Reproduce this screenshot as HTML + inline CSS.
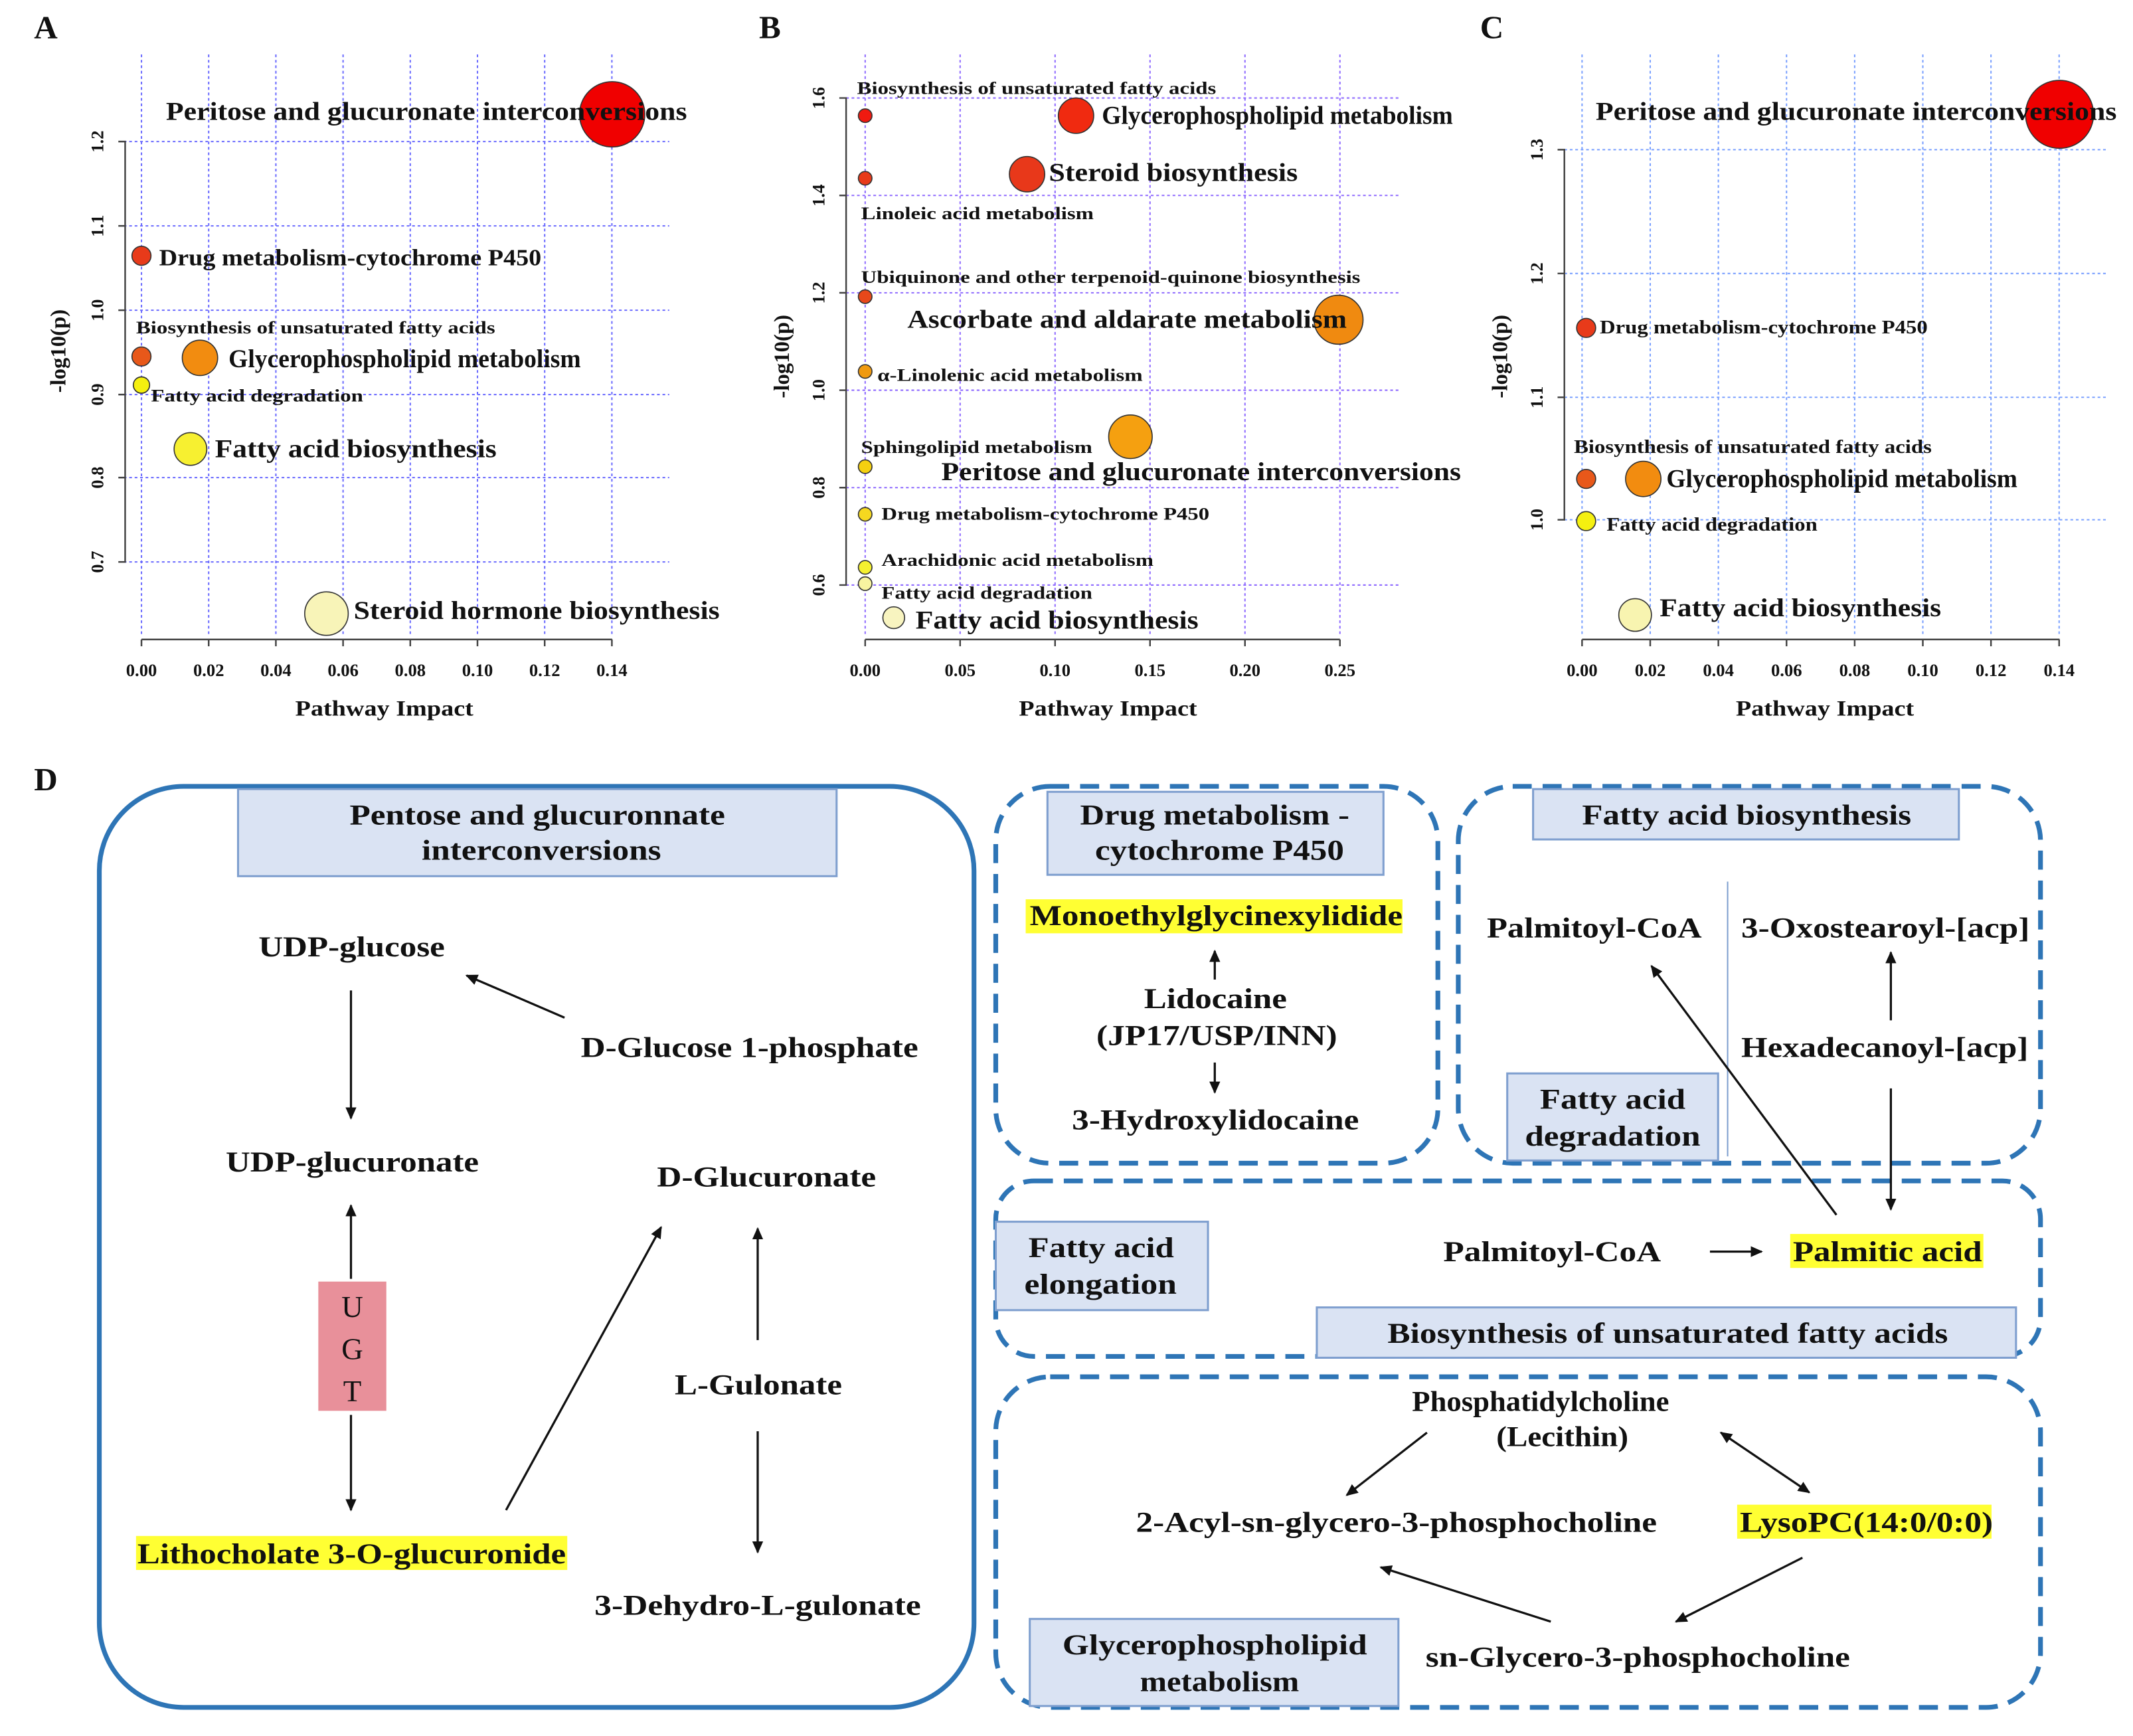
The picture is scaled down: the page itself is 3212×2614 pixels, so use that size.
<!DOCTYPE html>
<html><head><meta charset="utf-8"><style>
html,body{margin:0;padding:0;background:#fff}
svg{display:block}
text{font-family:"Liberation Serif",serif;font-weight:bold;fill:#111}
.g{stroke:#6b6bff;stroke-width:1;stroke-dasharray:2,2}
.gb{stroke:#8f6bff;stroke-width:1;stroke-dasharray:2,2}
.gc{stroke:#7aa0ff;stroke-width:1;stroke-dasharray:2,2}
.ax{stroke:#444;stroke-width:1.2;fill:none}
.b{stroke:#333;stroke-width:0.8}
.tk{font-size:13px}
.lb{fill:#dae3f3;stroke:#7f9fcf;stroke-width:1.5}
.dash{fill:none;stroke:#2e75b6;stroke-width:3.5;stroke-dasharray:14,8}
.ar{stroke:#111;stroke-width:1.6;fill:none;marker-end:url(#ah)}
.hl{fill:#ffff33}
</style></head><body>
<svg width="3212" height="2614" viewBox="0 0 1568 1276" xmlns="http://www.w3.org/2000/svg">
<defs><marker id="ah" markerWidth="10" markerHeight="10" refX="8" refY="5" orient="auto" markerUnits="userSpaceOnUse"><path d="M0,1 L9,5 L0,9 z" fill="#111"/></marker>
<marker id="as" markerWidth="10" markerHeight="10" refX="2" refY="5" orient="auto" markerUnits="userSpaceOnUse"><path d="M10,1 L1,5 L10,9 z" fill="#111"/></marker></defs>
<rect width="1568" height="1276" fill="#fff"/>

<!-- Panel A -->
<text x="25" y="28" font-size="24">A</text>
<g class="g">
<line x1="104" y1="40" x2="104" y2="468"/><line x1="153.4" y1="40" x2="153.4" y2="468"/><line x1="202.8" y1="40" x2="202.8" y2="468"/><line x1="252.2" y1="40" x2="252.2" y2="468"/><line x1="301.6" y1="40" x2="301.6" y2="468"/><line x1="351" y1="40" x2="351" y2="468"/><line x1="400.4" y1="40" x2="400.4" y2="468"/><line x1="449.8" y1="40" x2="449.8" y2="468"/>
<line x1="91" y1="104" x2="492" y2="104"/><line x1="91" y1="166" x2="492" y2="166"/><line x1="91" y1="228" x2="492" y2="228"/><line x1="91" y1="290" x2="492" y2="290"/><line x1="91" y1="351" x2="492" y2="351"/><line x1="91" y1="413" x2="492" y2="413"/>
</g>
<path class="ax" d="M87,104 H92 V413 H87 M92,166 H87 M92,228 H87 M92,290 H87 M92,351 H87"/>
<path class="ax" d="M104,470 H450 M104,470 v5 M153.4,470 v5 M202.8,470 v5 M252.2,470 v5 M301.6,470 v5 M351,470 v5 M400.4,470 v5 M449.8,470 v5"/>
<g class="tk" text-anchor="middle">
<text x="104" y="497">0.00</text><text x="153.4" y="497">0.02</text><text x="202.8" y="497">0.04</text><text x="252.2" y="497">0.06</text><text x="301.6" y="497">0.08</text><text x="351" y="497">0.10</text><text x="400.4" y="497">0.12</text><text x="449.8" y="497">0.14</text>
<text transform="translate(76,104) rotate(-90)">1.2</text><text transform="translate(76,166) rotate(-90)">1.1</text><text transform="translate(76,228) rotate(-90)">1.0</text><text transform="translate(76,290) rotate(-90)">0.9</text><text transform="translate(76,351) rotate(-90)">0.8</text><text transform="translate(76,413) rotate(-90)">0.7</text>
</g>
<text x="217" y="526" font-size="16" textLength="131" lengthAdjust="spacingAndGlyphs">Pathway Impact</text>
<text transform="translate(48,258) rotate(-90)" font-size="16" text-anchor="middle">-log10(p)</text>
<circle class="b" cx="450" cy="84" r="24" fill="#f00000"/>
<circle class="b" cx="104" cy="188" r="7" fill="#e83a1a"/>
<circle class="b" cx="104" cy="262" r="7" fill="#e8581a"/>
<circle class="b" cx="147" cy="263" r="13" fill="#f28c10"/>
<circle class="b" cx="104" cy="283" r="6" fill="#f5f010"/>
<circle class="b" cx="140" cy="330" r="12" fill="#f7f030"/>
<circle class="b" cx="240" cy="451" r="16" fill="#f8f4b8"/>
<g lengthAdjust="spacingAndGlyphs">
<text x="122" y="88" font-size="19" textLength="383" lengthAdjust="spacingAndGlyphs">Peritose and glucuronate interconversions</text>
<text x="117" y="195" font-size="17" textLength="281" lengthAdjust="spacingAndGlyphs">Drug metabolism-cytochrome P450</text>
<text x="100" y="245" font-size="13" textLength="264" lengthAdjust="spacingAndGlyphs">Biosynthesis of unsaturated fatty acids</text>
<text x="168" y="270" font-size="19" textLength="259" lengthAdjust="spacingAndGlyphs">Glycerophospholipid metabolism</text>
<text x="111" y="295" font-size="13" textLength="156" lengthAdjust="spacingAndGlyphs">Fatty acid degradation</text>
<text x="158" y="336" font-size="19" textLength="207" lengthAdjust="spacingAndGlyphs">Fatty acid biosynthesis</text>
<text x="260" y="455" font-size="19" textLength="269" lengthAdjust="spacingAndGlyphs">Steroid hormone biosynthesis</text>
</g>

<!-- Panel B -->
<text x="558" y="28" font-size="24">B</text>
<g class="gb">
<line x1="636" y1="40" x2="636" y2="468"/><line x1="705.8" y1="40" x2="705.8" y2="468"/><line x1="775.6" y1="40" x2="775.6" y2="468"/><line x1="845.4" y1="40" x2="845.4" y2="468"/><line x1="915.2" y1="40" x2="915.2" y2="468"/><line x1="985" y1="40" x2="985" y2="468"/>
<line x1="622" y1="72" x2="1030" y2="72"/><line x1="622" y1="143.6" x2="1030" y2="143.6"/><line x1="622" y1="215.2" x2="1030" y2="215.2"/><line x1="622" y1="286.8" x2="1030" y2="286.8"/><line x1="622" y1="358.4" x2="1030" y2="358.4"/><line x1="622" y1="430" x2="1030" y2="430"/>
</g>
<path class="ax" d="M617,72 H622 V430 H617 M622,143.6 H617 M622,215.2 H617 M622,286.8 H617 M622,358.4 H617"/>
<path class="ax" d="M636,470 H985 M636,470 v5 M705.8,470 v5 M775.6,470 v5 M845.4,470 v5 M915.2,470 v5 M985,470 v5"/>
<g class="tk" text-anchor="middle">
<text x="636" y="497">0.00</text><text x="705.8" y="497">0.05</text><text x="775.6" y="497">0.10</text><text x="845.4" y="497">0.15</text><text x="915.2" y="497">0.20</text><text x="985" y="497">0.25</text>
<text transform="translate(606,72) rotate(-90)">1.6</text><text transform="translate(606,143.6) rotate(-90)">1.4</text><text transform="translate(606,215.2) rotate(-90)">1.2</text><text transform="translate(606,286.8) rotate(-90)">1.0</text><text transform="translate(606,358.4) rotate(-90)">0.8</text><text transform="translate(606,430) rotate(-90)">0.6</text>
</g>
<text x="749" y="526" font-size="16" textLength="131" lengthAdjust="spacingAndGlyphs">Pathway Impact</text>
<text transform="translate(580,262) rotate(-90)" font-size="16" text-anchor="middle">-log10(p)</text>
<circle class="b" cx="636" cy="85" r="5" fill="#f01a10"/>
<circle class="b" cx="791" cy="85" r="13" fill="#f02a10"/>
<circle class="b" cx="636" cy="131" r="5" fill="#e83a1a"/>
<circle class="b" cx="755" cy="128" r="13" fill="#e8381a"/>
<circle class="b" cx="636" cy="218" r="5" fill="#e8481a"/>
<circle class="b" cx="984" cy="235" r="18" fill="#f08a10"/>
<circle class="b" cx="636" cy="273" r="5" fill="#f09a10"/>
<circle class="b" cx="636" cy="343" r="5" fill="#f5d010"/>
<circle class="b" cx="831" cy="321" r="16" fill="#f5a010"/>
<circle class="b" cx="636" cy="378" r="5" fill="#f5d820"/>
<circle class="b" cx="636" cy="417" r="5" fill="#f5f030"/>
<circle class="b" cx="636" cy="429" r="5" fill="#f8f4a0"/>
<circle class="b" cx="657" cy="454" r="8" fill="#f8f4c0"/>
<text x="630" y="69" font-size="13" textLength="264" lengthAdjust="spacingAndGlyphs">Biosynthesis of unsaturated fatty acids</text>
<text x="810" y="91" font-size="19" textLength="258" lengthAdjust="spacingAndGlyphs">Glycerophospholipid metabolism</text>
<text x="771" y="133" font-size="19" textLength="183" lengthAdjust="spacingAndGlyphs">Steroid biosynthesis</text>
<text x="633" y="161" font-size="13" textLength="171" lengthAdjust="spacingAndGlyphs">Linoleic acid metabolism</text>
<text x="633" y="208" font-size="13" textLength="367" lengthAdjust="spacingAndGlyphs">Ubiquinone and other terpenoid-quinone biosynthesis</text>
<text x="667" y="241" font-size="19" textLength="323" lengthAdjust="spacingAndGlyphs">Ascorbate and aldarate metabolism</text>
<text x="645" y="280" font-size="13" textLength="195" lengthAdjust="spacingAndGlyphs">α-Linolenic acid metabolism</text>
<text x="633" y="333" font-size="13" textLength="170" lengthAdjust="spacingAndGlyphs">Sphingolipid metabolism</text>
<text x="692" y="353" font-size="19" textLength="382" lengthAdjust="spacingAndGlyphs">Peritose and glucuronate interconversions</text>
<text x="648" y="382" font-size="13" textLength="241" lengthAdjust="spacingAndGlyphs">Drug metabolism-cytochrome P450</text>
<text x="648" y="416" font-size="13" textLength="200" lengthAdjust="spacingAndGlyphs">Arachidonic acid metabolism</text>
<text x="648" y="440" font-size="13" textLength="155" lengthAdjust="spacingAndGlyphs">Fatty acid degradation</text>
<text x="673" y="462" font-size="19" textLength="208" lengthAdjust="spacingAndGlyphs">Fatty acid biosynthesis</text>

<!-- Panel C -->
<text x="1088" y="28" font-size="24">C</text>
<g class="gc">
<line x1="1163" y1="40" x2="1163" y2="468"/><line x1="1213.1" y1="40" x2="1213.1" y2="468"/><line x1="1263.2" y1="40" x2="1263.2" y2="468"/><line x1="1313.3" y1="40" x2="1313.3" y2="468"/><line x1="1363.4" y1="40" x2="1363.4" y2="468"/><line x1="1413.5" y1="40" x2="1413.5" y2="468"/><line x1="1463.6" y1="40" x2="1463.6" y2="468"/><line x1="1513.7" y1="40" x2="1513.7" y2="468"/>
<line x1="1150" y1="110" x2="1548" y2="110"/><line x1="1150" y1="201" x2="1548" y2="201"/><line x1="1150" y1="292" x2="1548" y2="292"/><line x1="1150" y1="382" x2="1548" y2="382"/>
</g>
<path class="ax" d="M1145,110 H1150 V382 H1145 M1150,201 H1145 M1150,292 H1145"/>
<path class="ax" d="M1163,470 H1514 M1163,470 v5 M1213.1,470 v5 M1263.2,470 v5 M1313.3,470 v5 M1363.4,470 v5 M1413.5,470 v5 M1463.6,470 v5 M1513.7,470 v5"/>
<g class="tk" text-anchor="middle">
<text x="1163" y="497">0.00</text><text x="1213.1" y="497">0.02</text><text x="1263.2" y="497">0.04</text><text x="1313.3" y="497">0.06</text><text x="1363.4" y="497">0.08</text><text x="1413.5" y="497">0.10</text><text x="1463.6" y="497">0.12</text><text x="1513.7" y="497">0.14</text>
<text transform="translate(1134,110) rotate(-90)">1.3</text><text transform="translate(1134,201) rotate(-90)">1.2</text><text transform="translate(1134,292) rotate(-90)">1.1</text><text transform="translate(1134,382) rotate(-90)">1.0</text>
</g>
<text x="1276" y="526" font-size="16" textLength="131" lengthAdjust="spacingAndGlyphs">Pathway Impact</text>
<text transform="translate(1108,262) rotate(-90)" font-size="16" text-anchor="middle">-log10(p)</text>
<circle class="b" cx="1514" cy="84" r="25" fill="#f00000"/>
<circle class="b" cx="1166" cy="241" r="7" fill="#e83a1a"/>
<circle class="b" cx="1166" cy="352" r="7" fill="#e8581a"/>
<circle class="b" cx="1208" cy="352" r="13" fill="#f28c10"/>
<circle class="b" cx="1166" cy="383" r="7" fill="#f5f010"/>
<circle class="b" cx="1202" cy="452" r="12" fill="#f8f4b0"/>
<text x="1173" y="88" font-size="19" textLength="383" lengthAdjust="spacingAndGlyphs">Peritose and glucuronate interconversions</text>
<text x="1176" y="245" font-size="14" textLength="241" lengthAdjust="spacingAndGlyphs">Drug metabolism-cytochrome P450</text>
<text x="1157" y="333" font-size="14" textLength="263" lengthAdjust="spacingAndGlyphs">Biosynthesis of unsaturated fatty acids</text>
<text x="1225" y="358" font-size="19" textLength="258" lengthAdjust="spacingAndGlyphs">Glycerophospholipid metabolism</text>
<text x="1181" y="390" font-size="14" textLength="155" lengthAdjust="spacingAndGlyphs">Fatty acid degradation</text>
<text x="1220" y="453" font-size="19" textLength="207" lengthAdjust="spacingAndGlyphs">Fatty acid biosynthesis</text>

<!-- Panel D -->
<text x="25" y="581" font-size="24">D</text>
<rect x="73" y="578" width="643" height="677" rx="62" fill="none" stroke="#2e75b6" stroke-width="3.5"/>
<rect class="lb" x="175" y="580" width="440" height="64"/>
<text x="257" y="606" font-size="21" textLength="276" lengthAdjust="spacingAndGlyphs">Pentose and glucuronnate</text>
<text x="310" y="632" font-size="21" textLength="176" lengthAdjust="spacingAndGlyphs">interconversions</text>
<text x="190" y="703" font-size="21" textLength="137" lengthAdjust="spacingAndGlyphs">UDP-glucose</text>
<text x="427" y="777" font-size="21" textLength="248" lengthAdjust="spacingAndGlyphs">D-Glucose 1-phosphate</text>
<text x="166" y="861" font-size="21" textLength="186" lengthAdjust="spacingAndGlyphs">UDP-glucuronate</text>
<text x="483" y="872" font-size="21" textLength="161" lengthAdjust="spacingAndGlyphs">D-Glucuronate</text>
<text x="496" y="1025" font-size="21" textLength="123" lengthAdjust="spacingAndGlyphs">L-Gulonate</text>
<rect class="hl" x="100" y="1129" width="317" height="25"/>
<text x="101" y="1149" font-size="21" textLength="315" lengthAdjust="spacingAndGlyphs">Lithocholate 3-O-glucuronide</text>
<text x="437" y="1187" font-size="21" textLength="240" lengthAdjust="spacingAndGlyphs">3-Dehydro-L-gulonate</text>
<rect x="234" y="942" width="50" height="95" fill="#e8909a"/>
<text x="259" y="968" font-size="22" text-anchor="middle" style="font-weight:normal">U</text>
<text x="259" y="999" font-size="22" text-anchor="middle" style="font-weight:normal">G</text>
<text x="259" y="1030" font-size="22" text-anchor="middle" style="font-weight:normal">T</text>
<line class="ar" x1="258" y1="728" x2="258" y2="822"/>
<line class="ar" x1="415" y1="748" x2="343" y2="717"/>
<line class="ar" x1="258" y1="940" x2="258" y2="886" />
<line class="ar" x1="258" y1="1040" x2="258" y2="1110"/>
<line class="ar" x1="372" y1="1110" x2="486" y2="902"/>
<line class="ar" x1="557" y1="985" x2="557" y2="903"/>
<line class="ar" x1="557" y1="1052" x2="557" y2="1141"/>

<!-- dashed boxes -->
<rect class="dash" x="732" y="578" width="325" height="277" rx="40"/>
<rect class="dash" x="1072" y="578" width="428" height="277" rx="40"/>
<rect class="dash" x="732" y="868" width="768" height="129" rx="28"/>
<rect class="dash" x="732" y="1012" width="768" height="243" rx="40"/>

<rect class="lb" x="770" y="582" width="247" height="61"/>
<text x="794" y="606" font-size="21" textLength="198" lengthAdjust="spacingAndGlyphs">Drug metabolism -</text>
<text x="805" y="632" font-size="21" textLength="183" lengthAdjust="spacingAndGlyphs">cytochrome P450</text>
<rect class="hl" x="754" y="661" width="277" height="25"/>
<text x="757" y="680" font-size="21" textLength="274" lengthAdjust="spacingAndGlyphs">Monoethylglycinexylidide</text>
<text x="841" y="741" font-size="21" textLength="105" lengthAdjust="spacingAndGlyphs">Lidocaine</text>
<text x="806" y="768" font-size="21" textLength="177" lengthAdjust="spacingAndGlyphs">(JP17/USP/INN)</text>
<text x="788" y="830" font-size="21" textLength="211" lengthAdjust="spacingAndGlyphs">3-Hydroxylidocaine</text>
<line class="ar" x1="893" y1="720" x2="893" y2="699"/>
<line class="ar" x1="893" y1="781" x2="893" y2="803"/>

<rect class="lb" x="1127" y="580" width="313" height="37"/>
<text x="1163" y="606" font-size="21" textLength="242" lengthAdjust="spacingAndGlyphs">Fatty acid biosynthesis</text>
<line x1="1270" y1="648" x2="1270" y2="850" stroke="#7f9fcf" stroke-width="1"/>
<text x="1093" y="689" font-size="21" textLength="158" lengthAdjust="spacingAndGlyphs">Palmitoyl-CoA</text>
<text x="1280" y="689" font-size="21" textLength="212" lengthAdjust="spacingAndGlyphs">3-Oxostearoyl-[acp]</text>
<text x="1280" y="777" font-size="21" textLength="211" lengthAdjust="spacingAndGlyphs">Hexadecanoyl-[acp]</text>
<rect class="lb" x="1108" y="789" width="155" height="64"/>
<text x="1132" y="815" font-size="21" textLength="107" lengthAdjust="spacingAndGlyphs">Fatty acid</text>
<text x="1121" y="842" font-size="21" textLength="129" lengthAdjust="spacingAndGlyphs">degradation</text>
<line class="ar" x1="1390" y1="750" x2="1390" y2="700"/>
<line class="ar" x1="1390" y1="800" x2="1390" y2="889"/>
<line class="ar" x1="1350" y1="893" x2="1214" y2="710"/>

<rect class="lb" x="732" y="898" width="156" height="65"/>
<text x="756" y="924" font-size="21" textLength="107" lengthAdjust="spacingAndGlyphs">Fatty acid</text>
<text x="753" y="951" font-size="21" textLength="112" lengthAdjust="spacingAndGlyphs">elongation</text>
<text x="1061" y="927" font-size="21" textLength="160" lengthAdjust="spacingAndGlyphs">Palmitoyl-CoA</text>
<line class="ar" x1="1257" y1="920" x2="1295" y2="920"/>
<rect class="hl" x="1316" y="907" width="142" height="25"/>
<text x="1318" y="927" font-size="21" textLength="139" lengthAdjust="spacingAndGlyphs">Palmitic acid</text>
<rect class="lb" x="968" y="961" width="514" height="37"/>
<text x="1020" y="987" font-size="21" textLength="412" lengthAdjust="spacingAndGlyphs">Biosynthesis of unsaturated fatty acids</text>

<text x="1038" y="1037" font-size="21" textLength="189" lengthAdjust="spacingAndGlyphs">Phosphatidylcholine</text>
<text x="1100" y="1063" font-size="21" textLength="97" lengthAdjust="spacingAndGlyphs">(Lecithin)</text>
<text x="835" y="1126" font-size="21" textLength="383" lengthAdjust="spacingAndGlyphs">2-Acyl-sn-glycero-3-phosphocholine</text>
<rect class="hl" x="1277" y="1106" width="187" height="25"/>
<text x="1279" y="1126" font-size="21" textLength="186" lengthAdjust="spacingAndGlyphs">LysoPC(14:0/0:0)</text>
<text x="1048" y="1225" font-size="21" textLength="312" lengthAdjust="spacingAndGlyphs">sn-Glycero-3-phosphocholine</text>
<rect class="lb" x="757" y="1190" width="271" height="64"/>
<text x="781" y="1216" font-size="21" textLength="224" lengthAdjust="spacingAndGlyphs">Glycerophospholipid</text>
<text x="838" y="1243" font-size="21" textLength="117" lengthAdjust="spacingAndGlyphs">metabolism</text>
<line class="ar" x1="1049" y1="1053" x2="990" y2="1099"/>
<line class="ar" x1="1265" y1="1053" x2="1330" y2="1097" marker-start="url(#as)"/>
<line class="ar" x1="1325" y1="1145" x2="1232" y2="1192"/>
<line class="ar" x1="1140" y1="1192" x2="1015" y2="1152"/>
</svg>
</body></html>
